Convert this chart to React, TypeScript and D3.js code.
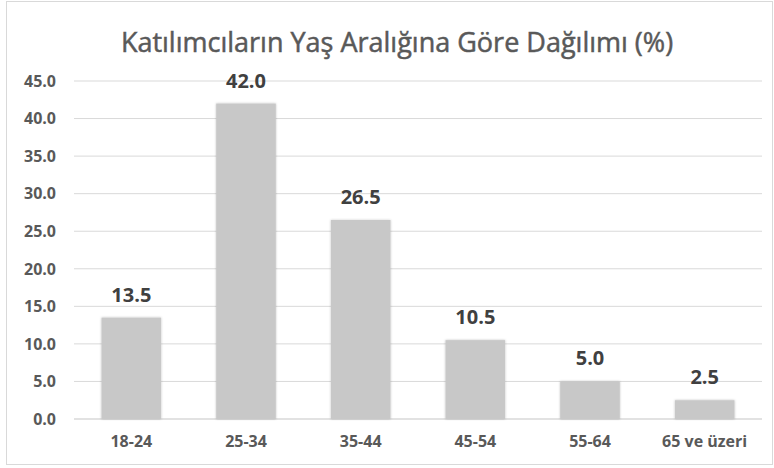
import React, { useEffect, useRef } from "react";
import * as d3 from "d3";

const categories = ["18-24", "25-34", "35-44", "45-54", "55-64", "65 ve üzeri"];
const values = [13.5, 42.0, 26.5, 10.5, 5.0, 2.5];
const yTicks = [0, 5, 10, 15, 20, 25, 30, 35, 40, 45];
const title = "Katılımcıların Yaş Aralığına Göre Dağılımı (%)";

const W = 774;
const H = 468;
const FONT = "'Open Sans', 'Noto Sans', sans-serif";

const App: React.FC = () => {
  const ref = useRef<SVGSVGElement>(null);

  useEffect(() => {
    document.body.style.margin = "0";
    const svg = d3.select(ref.current);
    svg.selectAll("*").remove();

    const margin = { left: 74, right: 12, top: 81, bottom: 49 };
    const x = d3
      .scaleBand<string>()
      .domain(categories)
      .range([margin.left, W - margin.right])
      .paddingInner(0.48)
      .paddingOuter(0.24);
    const y = d3
      .scaleLinear()
      .domain([0, 45])
      .range([H - margin.bottom, margin.top]);

    const defs = svg.append("defs");
    const f = defs
      .append("filter")
      .attr("id", "shadow")
      .attr("x", "-20%")
      .attr("y", "-20%")
      .attr("width", "140%")
      .attr("height", "140%");
    f.append("feDropShadow")
      .attr("dx", 0)
      .attr("dy", 0)
      .attr("stdDeviation", 1.2)
      .attr("flood-color", "#000")
      .attr("flood-opacity", 0.25);

    svg
      .append("rect")
      .attr("x", 6.5)
      .attr("y", 1.5)
      .attr("width", W - 8)
      .attr("height", H - 5)
      .attr("fill", "#fff")
      .attr("stroke", "#d9d9d9");

    svg
      .append("text")
      .attr("x", 397)
      .attr("y", 52)
      .attr("text-anchor", "middle")
      .attr("font-family", FONT)
      .attr("font-size", 27)
      .attr("fill", "#595959")
      .attr("stroke", "#595959")
      .attr("stroke-width", 0.5)
      .text(title);

    // grid
    svg
      .append("g")
      .selectAll("line")
      .data(yTicks)
      .join("line")
      .attr("x1", margin.left)
      .attr("x2", W - margin.right)
      .attr("y1", (d) => y(d))
      .attr("y2", (d) => y(d))
      .attr("stroke", "#d9d9d9")
      .attr("stroke-width", (d) => (d === 0 ? 1.5 : 1));

    // y tick labels
    svg
      .append("g")
      .selectAll("text")
      .data(yTicks)
      .join("text")
      .attr("x", 56)
      .attr("y", (d) => y(d))
      .attr("dy", "0.36em")
      .attr("text-anchor", "end")
      .attr("font-family", FONT)
      .attr("font-weight", "bold")
      .attr("font-size", 16)
      .attr("fill", "#595959")
      .text((d) => d3.format(".1f")(d));

    // bars
    svg
      .append("g")
      .selectAll("rect")
      .data(values)
      .join("rect")
      .attr("x", (_, i) => x(categories[i])!)
      .attr("width", x.bandwidth())
      .attr("y", (d) => y(d))
      .attr("height", (d) => y(0) - y(d))
      .attr("fill", "#c8c8c8")
      .attr("filter", "url(#shadow)");

    // data labels
    svg
      .append("g")
      .selectAll("text")
      .data(values)
      .join("text")
      .attr("x", (_, i) => x(categories[i])! + x.bandwidth() / 2)
      .attr("y", (d) => y(d) - 16)
      .attr("text-anchor", "middle")
      .attr("font-family", FONT)
      .attr("font-weight", "bold")
      .attr("font-size", 20)
      .attr("fill", "#404040")
      .text((d) => d3.format(".1f")(d));

    // category labels
    svg
      .append("g")
      .selectAll("text")
      .data(categories)
      .join("text")
      .attr("x", (d) => x(d)! + x.bandwidth() / 2)
      .attr("y", 447)
      .attr("text-anchor", "middle")
      .attr("font-family", FONT)
      .attr("font-weight", "bold")
      .attr("font-size", 16)
      .attr("fill", "#595959")
      .text((d) => d);
  }, []);

  return <svg ref={ref} width={W} height={H} style={{ display: "block" }} />;
};

export default App;
